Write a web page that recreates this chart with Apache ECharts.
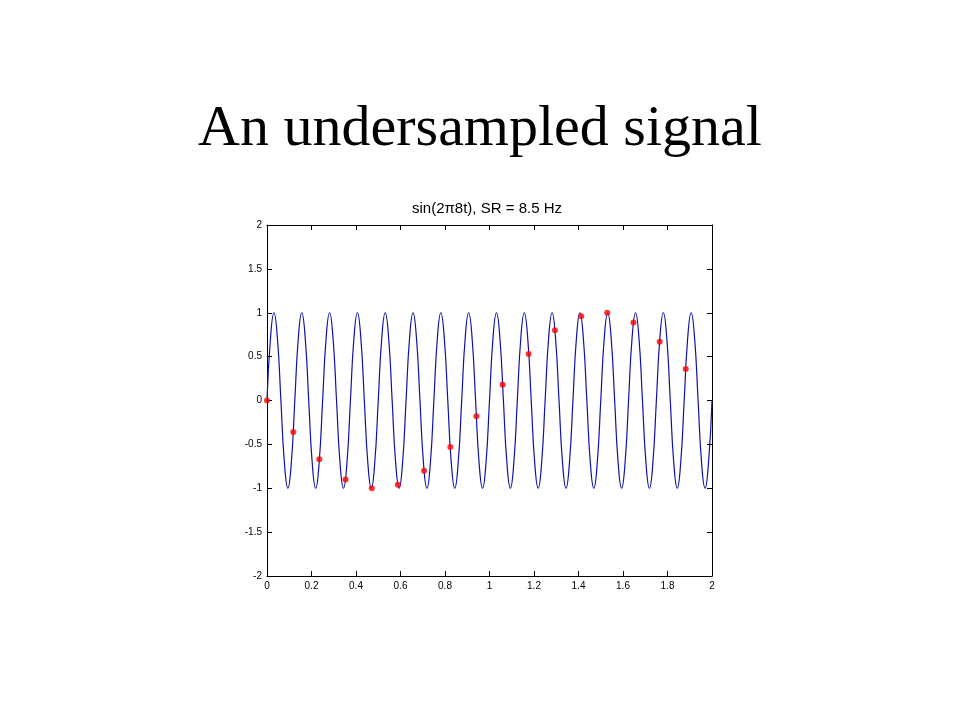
<!DOCTYPE html>
<html>
<head>
<meta charset="utf-8">
<script src="https://cdn.jsdelivr.net/npm/echarts@6/dist/echarts.min.js"></script>
<style>html,body{margin:0;padding:0;background:#fff;}#chart{width:960px;height:720px;}</style>
</head>
<body>
<div id="chart"></div>
<script>
const mainTitle = 'An undersampled signal';
const plotTitle = 'sin(2\u03c08t), SR = 8.5 Hz';

// continuous signal (16 cycles over 2 s)
const curveT = [
  0,0.0156,0.0313,0.0469,0.0625,0.0781,0.0938,0.1094,
  0.125,0.1406,0.1563,0.1719,0.1875,0.2031,0.2188,0.2344,
  0.25,0.2656,0.2813,0.2969,0.3125,0.3281,0.3438,0.3594,
  0.375,0.3906,0.4063,0.4219,0.4375,0.4531,0.4688,0.4844,
  0.5,0.5156,0.5313,0.5469,0.5625,0.5781,0.5938,0.6094,
  0.625,0.6406,0.6563,0.6719,0.6875,0.7031,0.7188,0.7344,
  0.75,0.7656,0.7813,0.7969,0.8125,0.8281,0.8438,0.8594,
  0.875,0.8906,0.9063,0.9219,0.9375,0.9531,0.9688,0.9844,
  1,1.0156,1.0313,1.0469,1.0625,1.0781,1.0938,1.1094,
  1.125,1.1406,1.1563,1.1719,1.1875,1.2031,1.2188,1.2344,
  1.25,1.2656,1.2813,1.2969,1.3125,1.3281,1.3438,1.3594,
  1.375,1.3906,1.4063,1.4219,1.4375,1.4531,1.4688,1.4844,
  1.5,1.5156,1.5313,1.5469,1.5625,1.5781,1.5938,1.6094,
  1.625,1.6406,1.6563,1.6719,1.6875,1.7031,1.7188,1.7344,
  1.75,1.7656,1.7813,1.7969,1.8125,1.8281,1.8438,1.8594,
  1.875,1.8906,1.9063,1.9219,1.9375,1.9531,1.9688,1.9844,
  2
];
const curveY = [
  0,0.707,1,0.707,0,-0.707,-1,-0.707,
  0,0.707,1,0.707,0,-0.707,-1,-0.707,
  0,0.707,1,0.707,0,-0.707,-1,-0.707,
  0,0.707,1,0.707,0,-0.707,-1,-0.707,
  0,0.707,1,0.707,0,-0.707,-1,-0.707,
  0,0.707,1,0.707,0,-0.707,-1,-0.707,
  0,0.707,1,0.707,0,-0.707,-1,-0.707,
  0,0.707,1,0.707,0,-0.707,-1,-0.707,
  0,0.707,1,0.707,0,-0.707,-1,-0.707,
  0,0.707,1,0.707,0,-0.707,-1,-0.707,
  0,0.707,1,0.707,0,-0.707,-1,-0.707,
  0,0.707,1,0.707,0,-0.707,-1,-0.707,
  0,0.707,1,0.707,0,-0.707,-1,-0.707,
  0,0.707,1,0.707,0,-0.707,-1,-0.707,
  0,0.707,1,0.707,0,-0.707,-1,-0.707,
  0,0.707,1,0.707,0,-0.707,-1,-0.707,
  0
];

// samples (red dots)
const sampleT = [0,0.118,0.235,0.353,0.471,0.588,0.706,0.824,0.941,1.059,1.176,1.294,1.412,1.529,1.647,1.765,1.882];
const sampleY = [0,-0.36,-0.67,-0.9,-1.0,-0.96,-0.8,-0.53,-0.18,0.18,0.53,0.8,0.96,1.0,0.89,0.67,0.36];

const chart = echarts.init(document.getElementById('chart'), null, {renderer: 'canvas'});

const lblFont = {color: '#000', fontFamily: 'Liberation Sans, Arial, sans-serif', fontSize: 10};
const axLine = {show: true, onZero: false, lineStyle: {color: '#000', width: 1}};
const axTick = {show: true, inside: true, length: 5, lineStyle: {color: '#000', width: 1}};

function xAx(pos, showLabel) {
  return {type: 'value', position: pos, min: 0, max: 2, interval: 0.2,
    axisLine: axLine, axisTick: axTick, splitLine: {show: false},
    axisLabel: Object.assign({show: showLabel, margin: 5}, lblFont)};
}
function yAx(pos, showLabel) {
  return {type: 'value', position: pos, min: -2, max: 2, interval: 0.5,
    axisLine: axLine, axisTick: axTick, splitLine: {show: false},
    axisLabel: Object.assign({show: showLabel, margin: 5}, lblFont)};
}

chart.setOption({
  backgroundColor: '#fff',
  animation: false,
  title: [
    {text: mainTitle, left: 'center', top: 98, padding: 0,
     textStyle: {fontFamily: 'Liberation Serif, Times New Roman, serif', fontWeight: 'normal', fontSize: 58, lineHeight: 64, color: '#000'}},
    {text: plotTitle, left: 412, top: 200, padding: 0,
     textStyle: {fontFamily: 'Liberation Sans, Arial, sans-serif', fontWeight: 'normal', fontSize: 15, lineHeight: 17, color: '#000'}}
  ],
  grid: {left: 267, right: 248, top: 225, bottom: 144, containLabel: false},
  xAxis: [xAx('bottom', true), xAx('top', false)],
  yAxis: [yAx('left', true), yAx('right', false)],
  series: [
    {type: 'line', xAxisIndex: 0, yAxisIndex: 0,
     data: curveT.map((t, i) => [t, curveY[i]]),
     showSymbol: false, smooth: 0.5, lineStyle: {color: '#1010a8', width: 1.2}, z: 2},
    {type: 'scatter', xAxisIndex: 0, yAxisIndex: 0,
     data: sampleT.map((t, i) => [t, sampleY[i]]),
     symbol: 'circle', symbolSize: 6, itemStyle: {color: '#ff0000'}, z: 3}
  ]
});
</script>
</body>
</html>
